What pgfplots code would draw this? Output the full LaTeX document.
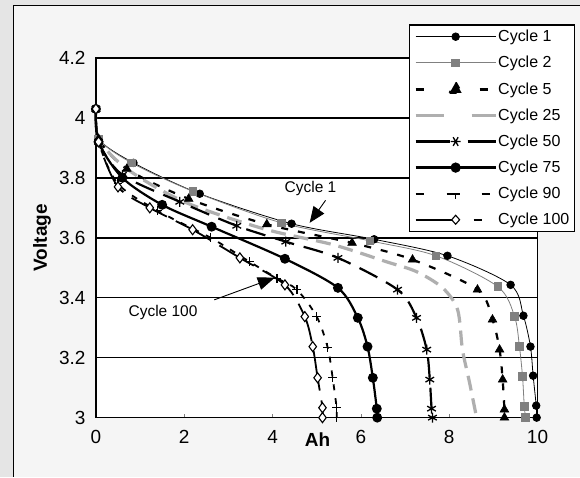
\documentclass[border=0pt]{standalone}
\usepackage{fontspec}
\setmainfont{Liberation Sans}
\usepackage{pgfplots}
\pgfplotsset{compat=1.18}
\usetikzlibrary{arrows.meta}

\definecolor{midgrey}{RGB}{128,128,128}
\definecolor{lightgrey}{RGB}{175,175,175}

\begin{document}
\begin{tikzpicture}
% scanned page background and outer chart frame
\fill[black!10] (0pt,0pt) rectangle (580pt,477pt);
\fill[black!4] (14pt,0pt) rectangle (580pt,471pt);
\draw[line width=1pt] (14pt,0pt) -- (14pt,471pt) -- (580pt,471pt);

\begin{axis}[
    at={(96pt,59pt)}, anchor=south west,
    scale only axis,
    width=442pt, height=360pt,
    xmin=0, xmax=10,
    ymin=3, ymax=4.2,
    xtick={0,2,4,6,8,10},
    ytick={3,3.2,3.4,3.6,3.8,4,4.2},
    xtick pos=bottom, tick align=inside,
    major tick length=4pt,
    ytick style={draw=none},
    ymajorgrids,
    major grid style={black, line width=1.5pt},
    axis line style={line width=1.5pt},
    axis background/.style={fill=white},
    tick label style={font=\fontsize{19}{22}\selectfont},
    xticklabel style={yshift=-9pt},
    yticklabel style={xshift=-7pt},
    /pgf/number format/assume math mode=true,
    xlabel={Ah},
    xlabel style={font=\fontsize{19}{22}\selectfont\bfseries, at={(axis description cs:0.502,0)}, anchor=north, inner sep=0pt, yshift=-15pt},
    ylabel={Voltage},
    ylabel style={font=\fontsize{19}{22}\selectfont\bfseries, at={(axis description cs:-0.122,0.5)}, anchor=center},
    clip=false,
    legend style={
        name=leg,
        at={(axis description cs:1.0837,1.0917)}, anchor=north east,
        draw=none, fill=white,
        font=\fontsize{16}{18}\selectfont,
        row sep=11pt, inner sep=4pt,
        nodes={inner sep=1pt},
    },
    legend cell align=left,
]

% Cycle 1
\addplot[black, line width=0.8pt, smooth, mark=*, mark size=3.8pt, mark options={solid},
    legend image code/.code={
        \draw[solid, black, line width=0.9pt] (0pt,0pt) -- (80pt,0pt);
        \fill[black] (40pt,0pt) circle (3.8pt);}] coordinates {
(0,4.03) (0.06,3.93) (0.85,3.85) (2.35,3.747) (4.43,3.647) (6.3,3.595) (7.96,3.54)
(9.39,3.443) (9.68,3.34) (9.84,3.237) (9.9,3.14) (9.97,3.04) (9.98,3.0)
};
\addlegendentry{Cycle 1}

% Cycle 2
\addplot[midgrey, line width=0.8pt, smooth, mark=square*, mark size=3.8pt, mark options={solid},
    legend image code/.code={
        \draw[solid, midgrey, line width=0.9pt] (0pt,0pt) -- (80pt,0pt);
        \fill[midgrey] (36.2pt,-3.8pt) rectangle (43.8pt,3.8pt);}] coordinates {
(0,4.03) (0.06,3.93) (0.81,3.85) (2.2,3.755) (4.2,3.65) (6.2,3.59) (7.7,3.54)
(9.1,3.437) (9.48,3.337) (9.59,3.237) (9.66,3.137) (9.7,3.037) (9.73,3.0)
};
\addlegendentry{Cycle 2}

% Cycle 5
\addplot[black, line width=2.2pt, dash pattern=on 7pt off 10pt, smooth, mark=triangle*, mark size=5pt, mark options={solid, line width=0.6pt},
    legend image code/.code={
        \draw[solid, black, line width=2.6pt] (0pt,0pt) -- (8pt,0pt) (64pt,0pt) -- (72pt,0pt);
        \fill[black] (34pt,-3.5pt) -- (46pt,-3.5pt) -- (40pt,7pt) -- cycle;}] coordinates {
(0,4.03) (0.06,3.93) (0.7,3.83) (2.1,3.73) (3.87,3.645) (5.8,3.583) (7.17,3.527)
(8.64,3.427) (8.98,3.327) (9.14,3.227) (9.21,3.127) (9.25,3.027) (9.25,3.0)
};
\addlegendentry{Cycle 5}

% Cycle 25
\addplot[lightgrey, line width=3.2pt, dash pattern=on 15pt off 8pt, smooth,
    legend image code/.code={
        \draw[solid, lightgrey, line width=3.2pt] (0pt,0pt) -- (28pt,0pt) (56pt,0pt) -- (80pt,0pt);}] coordinates {
(0,4.03) (0.06,3.93) (0.7,3.83) (2.0,3.72) (3.8,3.63) (5.37,3.577) (6.58,3.52)
(7.26,3.487) (7.85,3.433) (8.19,3.36) (8.3,3.227) (8.46,3.117) (8.62,3.0)
};
\addlegendentry{Cycle 25}

% Cycle 50
\addplot[black, line width=2.2pt, dash pattern=on 20pt off 10pt, smooth, mark=asterisk, mark size=5pt, mark options={solid, line width=1.3pt},
    legend image code/.code={
        \draw[solid, black, line width=2.6pt] (0pt,0pt) -- (34pt,0pt) (52pt,0pt) -- (80pt,0pt);
        \draw[solid, black, line width=1.3pt] (40pt,0pt) -- ++(60:5pt) (40pt,0pt) -- ++(120:5pt)
            (40pt,0pt) -- ++(-60:5pt) (40pt,0pt) -- ++(-120:5pt) (35pt,0pt) -- (45pt,0pt);}] coordinates {
(0,4.03) (0.06,3.92) (0.6,3.81) (1.9,3.72) (3.19,3.64) (4.3,3.587) (5.48,3.533)
(6.83,3.427) (7.26,3.333) (7.49,3.227) (7.56,3.127) (7.6,3.03) (7.62,3.0)
};
\addlegendentry{Cycle 50}

% Cycle 75
\addplot[black, line width=2.2pt, smooth, mark=*, mark size=3.8pt, mark options={solid},
    legend image code/.code={
        \draw[solid, black, line width=2.6pt] (0pt,0pt) -- (80pt,0pt);
        \fill[black] (40pt,0pt) circle (4pt);}] coordinates {
(0,4.03) (0.06,3.92) (0.6,3.8) (1.5,3.71) (2.62,3.637) (4.28,3.53) (5.48,3.433)
(5.93,3.333) (6.15,3.237) (6.27,3.133) (6.36,3.03) (6.37,3.0)
};
\addlegendentry{Cycle 75}

% Cycle 90
\addplot[black, line width=1.8pt, dash pattern=on 6pt off 8pt, smooth, mark=+, mark size=4.5pt, mark options={solid, line width=1.3pt},
    legend image code/.code={
        \draw[solid, black, line width=2.2pt] (0pt,0pt) -- (8pt,0pt) (31pt,0pt) -- (44pt,0pt) (66pt,0pt) -- (74pt,0pt);
        \draw[solid, black, line width=1.3pt] (40pt,0pt) -- (40pt,-5pt);}] coordinates {
(0,4.03) (0.06,3.92) (0.5,3.78) (1.4,3.69) (2.6,3.6) (3.48,3.52) (4.1,3.465)
(4.55,3.427) (5.0,3.337) (5.25,3.233) (5.36,3.133) (5.45,3.033) (5.45,3.0)
};
\addlegendentry{Cycle 90}

% Cycle 100
\addplot[black, line width=1.8pt, dash pattern=on 40pt off 10pt, smooth, mark=diamond*, mark size=5pt, mark options={solid, fill=white, line width=1.1pt},
    legend image code/.code={
        \draw[solid, black, line width=2.2pt] (0pt,0pt) -- (36pt,0pt) (58pt,0pt) -- (66pt,0pt);
        \draw[solid, black, fill=white, line width=1.1pt] (40pt,-4.5pt) -- (44pt,0pt) -- (40pt,4.5pt) -- (36pt,0pt) -- cycle;}] coordinates {
(0,4.03) (0.06,3.92) (0.5,3.77) (1.22,3.70) (2.19,3.627) (3.26,3.533) (4.28,3.443)
(4.73,3.337) (4.91,3.237) (5.02,3.133) (5.13,3.033) (5.13,3.0)
};
\addlegendentry{Cycle 100}

% annotations
\node[font=\fontsize{15.5}{18}\selectfont] at (axis cs:4.86,3.765) {Cycle 1};
\draw[line width=0.9pt, -{Triangle[length=16pt,width=13pt]}] (axis cs:5.2,3.725) -- (axis cs:4.84,3.65);
\node[font=\fontsize{15.5}{18}\selectfont] at (axis cs:1.52,3.35) {Cycle 100};
\draw[line width=0.9pt, -{Triangle[length=17pt,width=13pt]}] (axis cs:2.68,3.393) -- (axis cs:4.05,3.467);

\end{axis}
% legend frame
\draw[line width=1.2pt] (leg.south west) rectangle (leg.north east);
\end{tikzpicture}
\end{document}
